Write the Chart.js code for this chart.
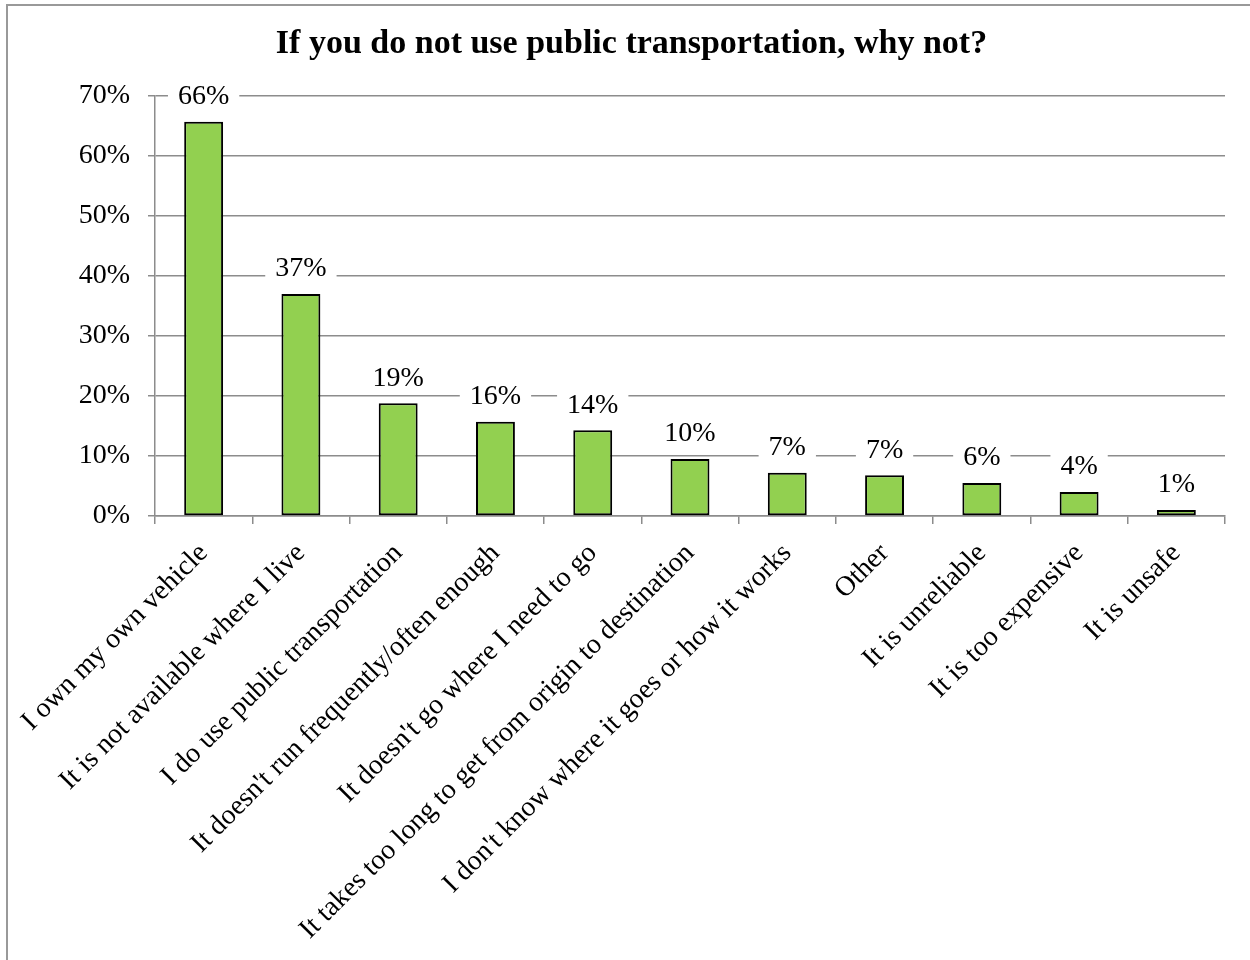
<!DOCTYPE html>
<html>
<head>
<meta charset="utf-8">
<script src="https://cdn.jsdelivr.net/npm/chart.js@4.4.0/dist/chart.umd.min.js"></script>
<style>
  html, body { margin: 0; padding: 0; background: #fff; }
  #frame { position: absolute; left: 6px; top: 4px; width: 1300px; height: 1000px; border: 2px solid #999; }
  #wrap { position: absolute; left: 0; top: 0; width: 1250px; height: 960px; }
</style>
</head>
<body>
<div id="frame"></div>
<div id="wrap"><canvas id="chart"></canvas></div>
<script>
// categories and values (percent)
var categories = [
    'I own my own vehicle',
    'It is not available where I live',
    'I do use public transportation',
    "It doesn't run frequently/often enough",
    "It doesn't go where I need to go",
    'It takes too long to get from origin to destination',
    "I don't know where it goes or how it works",
    'Other',
    'It is unreliable',
    'It is too expensive',
    'It is unsafe'
];
var values = [65.7, 37.0, 18.8, 15.7, 14.3, 9.5, 7.2, 6.8, 5.5, 4.0, 1.0];
var yTicks = [0, 10, 20, 30, 40, 50, 60, 70];

var serif = "'Liberation Serif', 'DejaVu Serif', serif";
var gridGray = '#8c8c8c';

// labels above bars, with a white box that hides the gridline behind them
var barLabels = {
    id: 'barLabels',
    afterDatasetsDraw: function(chart) {
        var ctx = chart.ctx;
        var meta = chart.getDatasetMeta(0);
        ctx.save();
        ctx.font = '28px ' + serif;
        ctx.textAlign = 'center';
        ctx.textBaseline = 'middle';
        meta.data.forEach(function(bar, i) {
            var txt = Math.round(values[i]) + '%';
            var w = ctx.measureText(txt).width;
            var y = bar.y - 25;
            ctx.fillStyle = '#fff';
            ctx.fillRect(bar.x - w / 2 - 10, y - 14, w + 20, 28);
            ctx.fillStyle = '#000';
            ctx.fillText(txt, bar.x, y);
        });
        ctx.restore();
    }
};

var ctx = document.getElementById('chart').getContext('2d');
var myChart = new Chart(ctx, {
    type: 'bar',
    data: {
        labels: categories,
        datasets: [{
            data: values,
            backgroundColor: '#92D050',
            borderColor: '#000',
            borderWidth: 2,
            borderSkipped: false,
            categoryPercentage: 1.0,
            barPercentage: 0.4
        }]
    },
    options: {
        responsive: true,
        maintainAspectRatio: false,
        animation: false,
        layout: { padding: { left: 38, right: 25, top: 0, bottom: 0 } },
        plugins: {
            legend: { display: false },
            tooltip: { enabled: false },
            title: {
                display: true,
                text: 'If you do not use public transportation, why not?',
                color: '#000',
                font: { family: serif, size: 34, weight: 'bold', lineHeight: 1.2 },
                padding: { top: 23.6, bottom: 31.6 }
            }
        },
        scales: {
            x: {
                afterFit: function(scale) { scale.height = 444; },
                grid: {
                    drawOnChartArea: false,
                    drawTicks: true,
                    tickLength: 8,
                    color: gridGray,
                    lineWidth: 1.5
                },
                border: { color: gridGray, width: 1.5 },
                ticks: {
                    color: '#000',
                    minRotation: 45,
                    maxRotation: 45,
                    autoSkip: false,
                    padding: 13,
                    font: { family: serif, size: 28 }
                }
            },
            y: {
                min: 0,
                max: 70,
                afterFit: function(scale) { scale.width = 117; },
                afterBuildTicks: function(scale) {
                    scale.ticks = yTicks.map(function(v) { return { value: v }; });
                },
                grid: {
                    color: gridGray,
                    lineWidth: 1.5,
                    tickLength: 7
                },
                border: { color: gridGray, width: 1.5 },
                ticks: {
                    color: '#000',
                    padding: 18,
                    font: { family: serif, size: 28 },
                    callback: function(v) { return v + '%'; }
                }
            }
        }
    },
    plugins: [barLabels]
});
</script>
</body>
</html>
